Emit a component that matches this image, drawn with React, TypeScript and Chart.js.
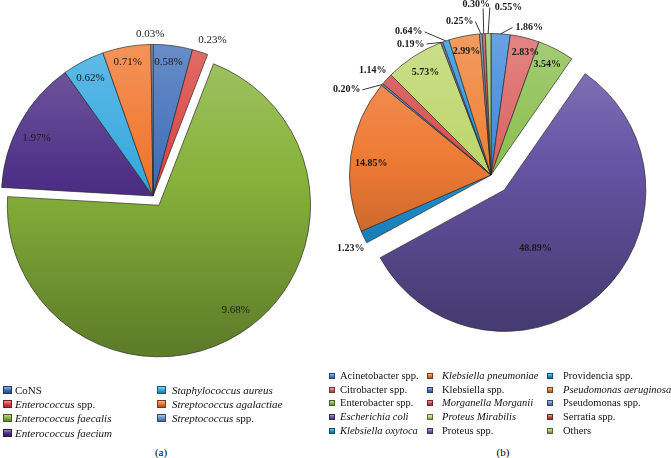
import React, { useEffect, useRef } from "react";
import { Chart, registerables } from "chart.js";
Chart.register(...registerables);

// ---------- DATA ----------
const leftCategories = [
  "CoNS",
  "*Enterococcus* spp.",
  "*Enterococcus faecalis*",
  "*Enterococcus faecium*",
  "*Staphylococcus aureus*",
  "*Streptococcus agalactiae*",
  "*Streptococcus* spp.",
];
const leftValues = [0.58, 0.23, 9.68, 1.97, 0.62, 0.71, 0.03];

const rightCategories = [
  "Acinetobacter spp.",
  "Citrobacter spp.",
  "Enterobacter spp.",
  "*Escherichia coli*",
  "*Klebsiella oxytoca*",
  "*Klebsiella pneumoniae*",
  "Klebsiella spp.",
  "*Morganella Morganii*",
  "*Proteus Mirabilis*",
  "Proteus spp.",
  "Providencia spp.",
  "*Pseudomonas aeruginosa*",
  "Pseudomonas spp.",
  "Serratia spp.",
  "Others",
];
const rightValues = [1.86, 2.83, 3.54, 48.89, 1.23, 14.85, 0.2, 1.14, 5.73, 0.19, 0.64, 2.99, 0.25, 0.3, 0.55];

// ---------- STYLE ----------
const leftColors = ["#3E6DB8", "#D9423F", "#86B23A", "#4D2F86", "#35A8DF", "#F0742A", "#6C8FCC"];
const rightColors = [
  "#3F88DA", "#DB6360", "#8CBF50", "#6655A5", "#1F95D8", "#EE7A34", "#4C7EC4", "#D54E4E",
  "#BDD66B", "#8060B0", "#2396E0", "#EE8035", "#6A8CCB", "#C84F4F", "#9CC463",
];
const leftExplode = [0, 0, 11, 0, 0, 0, 0];
const rightExplode = [0, 0, 0, 20, 0, 0, 0, 0, 0, 0, 0, 0, 0, 0, 0];

// label placement: f = inside fraction of radius; otherwise outside anchor (ang deg clockwise from top, rf)
const leftLabelCfg: any[] = [
  { f: 0.89, ang: 6.6 },
  { ang: 20.9, rf: 1.1, align: "center" },
  { f: 0.86, ang: 143.9 },
  { f: 0.86, ang: 296.6 },
  { f: 0.88, ang: 332 },
  { f: 0.9, ang: 349.3 },
  { ang: 359, rf: 1.07, align: "center" },
];
const rightLabelCfg: any[] = [
  { ang: 8.3, rf: 1.053, align: "left", tx: 3, line: true },
  { f: 0.9, ang: 15.7 },
  { f: 0.88, ang: 26.9 },
  { f: 0.47, ang: 152.1 },
  { ang: 239.6, rf: 1.028, align: "right", tx: -1 },
  { f: 0.85, ang: 275.5 },
  { ang: 303.5, rf: 1.09, align: "right", tx: -2, line: true },
  { ang: 314.7, rf: 1.03, align: "right", tx: -1, ty: -2 },
  { f: 0.86, ang: 327.4 },
  { ang: 333.8, rf: 1.032, align: "right", tx: -2, line: true },
  { ang: 335.1, rf: 1.115, align: "right", tx: -2, line: true },
  { f: 0.89, ang: 348.8 },
  { ang: 354.2, rf: 1.09, align: "right", tx: -2, line: true },
  { ang: 357.3, rf: 1.178, align: "center", tx: -7, ty: -4, line: true },
  { ang: 359.6, rf: 1.184, align: "left", tx: 5, ty: 0, line: true },
];

const SERIF = '"Liberation Serif", "DejaVu Serif", serif';

function shade(hex: string, amt: number) {
  const n = parseInt(hex.slice(1), 16);
  let r = (n >> 16) & 255, g = (n >> 8) & 255, b = n & 255;
  const f = (c: number) => Math.round(amt >= 0 ? c + (255 - c) * amt : c * (1 + amt));
  r = f(r); g = f(g); b = f(b);
  return `rgb(${r},${g},${b})`;
}

const deg = Math.PI / 180;

const pieDecor = {
  id: "pieDecor",
  afterDatasetsUpdate(chart: any, _args: any, opts: any) {
    const meta = chart.getDatasetMeta(0);
    const ex = opts.explode || [];
    meta.data.forEach((arc: any, i: number) => {
      const d = ex[i] || 0;
      if (!d) return;
      const mid = (arc.startAngle + arc.endAngle) / 2;
      arc.x += Math.cos(mid) * d;
      arc.y += Math.sin(mid) * d;
    });
  },
  afterDatasetsDraw(chart: any, _args: any, opts: any) {
    const ctx = chart.ctx;
    const meta = chart.getDatasetMeta(0);
    const ds = chart.data.datasets[0];
    meta.data.forEach((arc: any, i: number) => {
      const cfg = opts.labels[i];
      if (!cfg) return;
      const r = arc.outerRadius;
      const mid = (arc.startAngle + arc.endAngle) / 2;
      const text = Number(ds.data[i]).toFixed(2) + "%";
      ctx.save();
      ctx.font = opts.font;
      ctx.fillStyle = opts.color;
      ctx.textBaseline = "middle";
      if (cfg.f != null) {
        const a = cfg.ang != null ? (cfg.ang - 90) * deg : mid;
        ctx.textAlign = "center";
        ctx.fillText(text, arc.x + Math.cos(a) * r * cfg.f, arc.y + Math.sin(a) * r * cfg.f);
      } else {
        const a = (cfg.ang - 90) * deg;
        const ax = arc.x + Math.cos(a) * r * cfg.rf;
        const ay = arc.y + Math.sin(a) * r * cfg.rf;
        if (cfg.line) {
          ctx.beginPath();
          ctx.moveTo(arc.x + Math.cos(mid) * r, arc.y + Math.sin(mid) * r);
          ctx.lineTo(ax, ay);
          ctx.strokeStyle = "#222";
          ctx.lineWidth = 0.9;
          ctx.stroke();
        }
        ctx.textAlign = cfg.align || "center";
        ctx.fillText(text, ax + (cfg.tx || 0), ay + (cfg.ty || 0));
      }
      ctx.restore();
    });
  },
};

function PieCanvas(props: {
  labels: string[];
  values: number[];
  colors: string[];
  explode: number[];
  labelCfg: any[];
  radius: number;
  cx: number;
  cy: number;
  half: number;
  font: string;
}) {
  const ref = useRef<HTMLCanvasElement | null>(null);
  useEffect(() => {
    if (!ref.current) return;
    const { colors, radius } = props;
    const fill = (c: any) => {
      const base = colors[c.dataIndex] || "#888";
      const area = c.chart.chartArea;
      if (!area || c.dataIndex == null) return base;
      const ccy = (area.top + area.bottom) / 2;
      const g = c.chart.ctx.createLinearGradient(0, ccy - radius, 0, ccy + radius);
      g.addColorStop(0, shade(base, 0.22));
      g.addColorStop(0.45, base);
      g.addColorStop(1, shade(base, -0.3));
      return g;
    };
    const chart = new Chart(ref.current, {
      type: "pie",
      data: {
        labels: props.labels.map((s) => s.replace(/\*/g, "")),
        datasets: [
          {
            data: props.values,
            backgroundColor: fill as any,
            borderColor: "rgba(40,40,40,0.85)",
            borderWidth: 0.8,
          },
        ],
      },
      options: {
        responsive: false,
        animation: false,
        events: [],
        radius: props.radius,
        layout: { padding: 0 },
        plugins: {
          legend: { display: false },
          tooltip: { enabled: false },
          pieDecor: {
            explode: props.explode,
            labels: props.labelCfg,
            font: props.font,
            color: "#1a1a1a",
          },
        } as any,
      },
      plugins: [pieDecor as any],
    });
    return () => chart.destroy();
  }, []);
  const size = props.half * 2;
  return (
    <canvas
      ref={ref}
      width={size}
      height={size}
      style={{
        position: "absolute",
        left: props.cx - props.half,
        top: props.cy - props.half,
        width: size,
        height: size,
      }}
    />
  );
}

function RichLabel({ text }: { text: string }) {
  const parts = text.split("*");
  return (
    <>
      {parts.map((p, i) =>
        p ? (
          <span key={i} style={{ fontStyle: i % 2 === 1 ? "italic" : "normal" }}>
            {p}
          </span>
        ) : null
      )}
    </>
  );
}

function Legend(props: {
  labels: string[];
  colors: string[];
  markerX: number[];
  textX: number[];
  y0: number;
  dy: number;
  perCol: number;
  mw: number;
  mh: number;
  fontSize: number;
}) {
  return (
    <>
      {props.labels.map((lab, i) => {
        const col = Math.floor(i / props.perCol);
        const row = i % props.perCol;
        const y = props.y0 + row * props.dy;
        const c = props.colors[i];
        return (
          <React.Fragment key={i}>
            <div
              style={{
                position: "absolute",
                left: props.markerX[col],
                top: y - props.mh / 2,
                width: props.mw,
                height: props.mh,
                boxSizing: "border-box",
                border: "0.5px solid " + shade(c, -0.5),
                background: `linear-gradient(to bottom, ${shade(c, 0.45)}, ${c} 50%, ${shade(c, -0.3)})`,
              }}
            />
            <div
              style={{
                position: "absolute",
                left: props.textX[col],
                top: y - 7,
                height: 14,
                lineHeight: "14px",
                fontSize: props.fontSize,
                fontFamily: SERIF,
                color: "#111",
                whiteSpace: "nowrap",
              }}
            >
              <RichLabel text={lab} />
            </div>
          </React.Fragment>
        );
      })}
    </>
  );
}

export default function App() {
  return (
    <div
      style={{
        position: "absolute",
        left: 0,
        top: 0,
        width: 671,
        height: 458,
        overflow: "hidden",
        background: "#fff",
      }}
    >
      <PieCanvas
        labels={leftCategories}
        values={leftValues}
        colors={leftColors}
        explode={leftExplode}
        labelCfg={leftLabelCfg}
        radius={151.6}
        cx={152.5}
        cy={195.7}
        half={185}
        font={`11px ${SERIF}`}
      />
      <PieCanvas
        labels={rightCategories}
        values={rightValues}
        colors={rightColors}
        explode={rightExplode}
        labelCfg={rightLabelCfg}
        radius={141.5}
        cx={490.5}
        cy={174.5}
        half={180}
        font={`bold 10px ${SERIF}`}
      />
      <Legend
        labels={leftCategories}
        colors={leftColors}
        markerX={[3, 157]}
        textX={[15, 172]}
        y0={390}
        dy={14.2}
        perCol={4}
        mw={9}
        mh={8}
        fontSize={11}
      />
      <Legend
        labels={rightCategories}
        colors={rightColors}
        markerX={[329, 427, 547]}
        textX={[340, 442, 563]}
        y0={376}
        dy={13.65}
        perCol={5}
        mw={6}
        mh={6}
        fontSize={10.5}
      />
      <div style={{ position: "absolute", left: 141, width: 40, textAlign: "center", top: 445, lineHeight: "14px", fontSize: 11, fontFamily: SERIF }}>
        (a)
      </div>
      <div style={{ position: "absolute", left: 483, width: 40, textAlign: "center", top: 445, lineHeight: "14px", fontSize: 11, fontFamily: SERIF }}>
        (b)
      </div>
    </div>
  );
}
